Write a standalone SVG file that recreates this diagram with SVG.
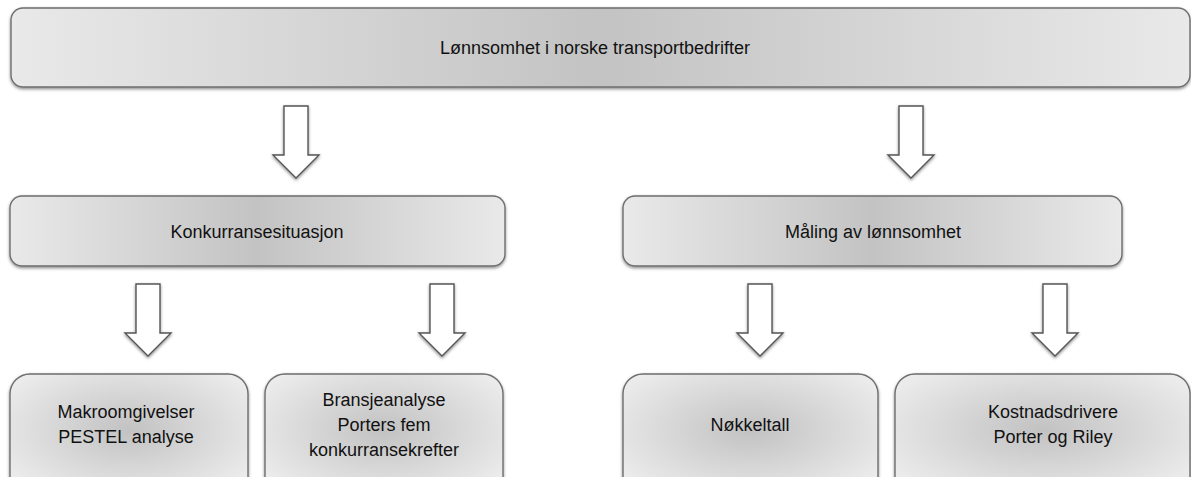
<svg xmlns="http://www.w3.org/2000/svg" xmlns:xlink="http://www.w3.org/1999/xlink" width="1191" height="477" viewBox="0 0 1191 477">
  <style>
    .box { stroke: #6e6e6e; stroke-width: 1.4; filter: url(#shadow); }
    .wide { fill: url(#barFill); }
    .leaf { fill: url(#leafFill); }
    .label { font-family: "Liberation Sans", Arial, sans-serif; font-size: 18px; fill: #111111; text-anchor: middle; }
    .arrow { fill: #ffffff; stroke: #555555; stroke-width: 1.4; stroke-linejoin: miter; filter: url(#shadow); }
  </style>
  <defs>
    <filter id="shadow" x="-10%" y="-10%" width="120%" height="130%">
      <feDropShadow dx="0" dy="1.5" stdDeviation="1.5" flood-color="#000000" flood-opacity="0.45"/>
    </filter>
    <linearGradient id="barFill" x1="0" y1="0" x2="1" y2="0">
      <stop offset="0" stop-color="#e9e9e9"/>
      <stop offset="0.5" stop-color="#c3c3c3"/>
      <stop offset="1" stop-color="#e9e9e9"/>
    </linearGradient>
    <radialGradient id="leafFill" cx="0.5" cy="0.45" r="0.6">
      <stop offset="0" stop-color="#c2c2c2"/>
      <stop offset="1" stop-color="#ebebeb"/>
    </radialGradient>
    <!-- hollow block arrow pointing down, origin at the top centre of the shaft -->
    <path id="downArrow" class="arrow" d="M -12 0 H 12 V 49 H 23 L 0 72 L -23 49 H -12 Z"/>
  </defs>

  <g id="connectors">
    <use xlink:href="#downArrow" x="296" y="106"/>
    <use xlink:href="#downArrow" x="911" y="106"/>
    <use xlink:href="#downArrow" x="148" y="284"/>
    <use xlink:href="#downArrow" x="442" y="284"/>
    <use xlink:href="#downArrow" x="760" y="284"/>
    <use xlink:href="#downArrow" x="1055" y="284"/>
  </g>

  <g id="node-root">
    <rect class="box wide" x="11" y="8" width="1179" height="79" rx="12"/>
    <text class="label" x="595" y="54">Lønnsomhet i norske transportbedrifter</text>
  </g>

  <g id="node-konkurranse">
    <rect class="box wide" x="10" y="196" width="495" height="70" rx="12"/>
    <text class="label" x="257" y="238">Konkurransesituasjon</text>
  </g>

  <g id="node-maaling">
    <rect class="box wide" x="623" y="196" width="499" height="70" rx="12"/>
    <text class="label" x="873" y="238">Måling av lønnsomhet</text>
  </g>

  <g id="node-makro">
    <rect class="box leaf" x="10" y="374" width="238" height="125" rx="20"/>
    <text class="label" x="126" y="418">Makroomgivelser</text>
    <text class="label" x="126" y="443">PESTEL analyse</text>
  </g>

  <g id="node-bransje">
    <rect class="box leaf" x="265" y="374" width="238" height="125" rx="20"/>
    <text class="label" x="384" y="406">Bransjeanalyse</text>
    <text class="label" x="384" y="431">Porters fem</text>
    <text class="label" x="384" y="456">konkurransekrefter</text>
  </g>

  <g id="node-nokkeltall">
    <rect class="box leaf" x="623" y="374" width="255" height="125" rx="20"/>
    <text class="label" x="750" y="431">Nøkkeltall</text>
  </g>

  <g id="node-kostnad">
    <rect class="box leaf" x="895" y="374" width="295" height="125" rx="20"/>
    <text class="label" x="1053" y="418">Kostnadsdrivere</text>
    <text class="label" x="1053" y="443">Porter og Riley</text>
  </g>
</svg>
